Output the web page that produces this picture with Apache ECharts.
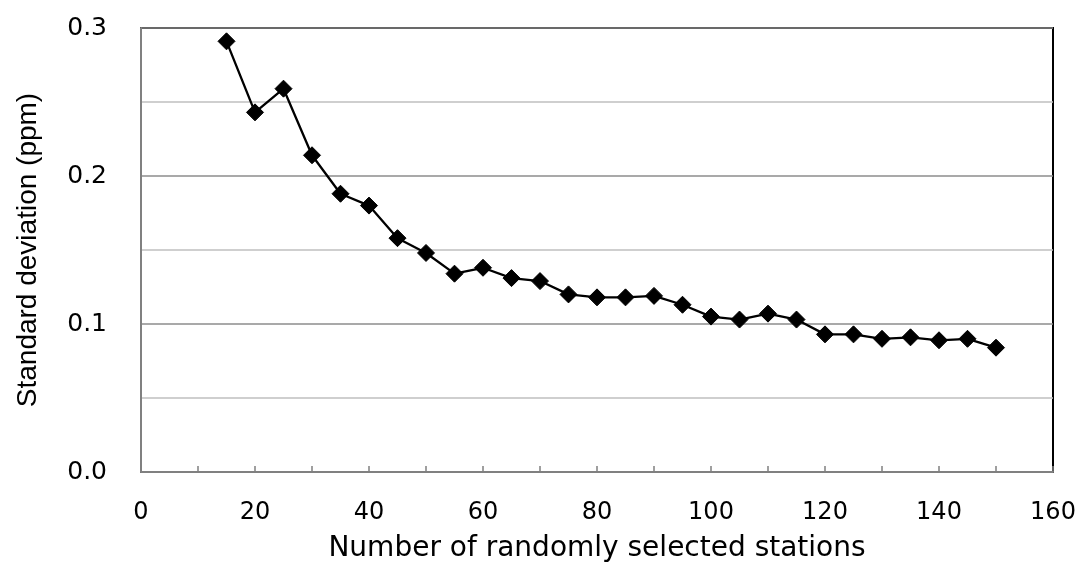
<!DOCTYPE html>
<html>
<head>
<meta charset="utf-8">
<script src="https://cdn.jsdelivr.net/npm/echarts@6/dist/echarts.min.js"></script>
<style>
html,body{margin:0;padding:0;background:#fff;}
#chart{width:1080px;height:565px;}
</style>
</head>
<body>
<div id="chart"></div>
<script>
const stations = [15,20,25,30,35,40,45,50,55,60,65,70,75,80,85,90,95,100,105,110,115,120,125,130,135,140,145,150];
const stdDev = [0.291,0.243,0.259,0.214,0.188,0.180,0.158,0.148,0.134,0.138,0.131,0.129,0.120,0.118,0.118,0.119,0.113,0.105,0.103,0.107,0.103,0.093,0.093,0.090,0.091,0.089,0.090,0.084];
const xTitle = 'Number of randomly selected stations';
const yTitle = 'Standard deviation (ppm)';

const points = stations.map((s, i) => [s, stdDev[i]]);
const FONT_WIDE = '"DejaVu Sans", "Liberation Sans", Arial, sans-serif';
const FONT_ARIAL = '"Liberation Sans", Arial, sans-serif';

const chart = echarts.init(document.getElementById('chart'), null, {renderer: 'canvas'});
chart.setOption({
  animation: false,
  backgroundColor: '#ffffff',
  grid: {
    left: 141, right: 27, top: 28, bottom: 93,
    containLabel: false, outerBoundsMode: 'none',
    show: true, borderColor: '#000000', borderWidth: 2, backgroundColor: 'transparent'
  },
  xAxis: {
    type: 'value', min: 0, max: 160, interval: 20,
    name: xTitle, nameLocation: 'middle', nameGap: 63,
    nameTextStyle: {fontFamily: FONT_WIDE, fontSize: 28, color: '#000'},
    axisLine: {show: true, lineStyle: {color: '#808080', width: 2}},
    axisTick: {show: true, inside: true, length: 6, lineStyle: {color: '#808080', width: 1.5}},
    minorTick: {show: true, splitNumber: 2, length: 6, lineStyle: {color: '#808080', width: 1.5}},
    axisLabel: {fontFamily: FONT_WIDE, fontSize: 24, color: '#000', margin: 29},
    splitLine: {show: false}
  },
  yAxis: {
    type: 'value', min: 0, max: 0.3, interval: 0.1,
    name: yTitle, nameLocation: 'middle', nameGap: 99, nameRotate: 90,
    nameTextStyle: {fontFamily: FONT_ARIAL, fontSize: 28, color: '#000'},
    axisLine: {show: true, lineStyle: {color: '#808080', width: 2}},
    axisTick: {show: false},
    axisLabel: {fontFamily: FONT_WIDE, fontSize: 25, color: '#000', margin: 34,
      formatter: v => v.toFixed(1)},
    splitLine: {show: true, lineStyle: {color: '#8c8c8c', width: 1.5}},
    minorTick: {show: false, splitNumber: 2},
    minorSplitLine: {show: true, lineStyle: {color: '#c0c0c0', width: 1.5}}
  },
  series: [{
    type: 'line',
    data: points,
    symbol: 'diamond',
    symbolSize: 17,
    showAllSymbol: true,
    lineStyle: {color: '#000', width: 2.3},
    itemStyle: {color: '#000', borderColor: '#000'},
    z: 5
  }]
});
</script>
</body>
</html>
